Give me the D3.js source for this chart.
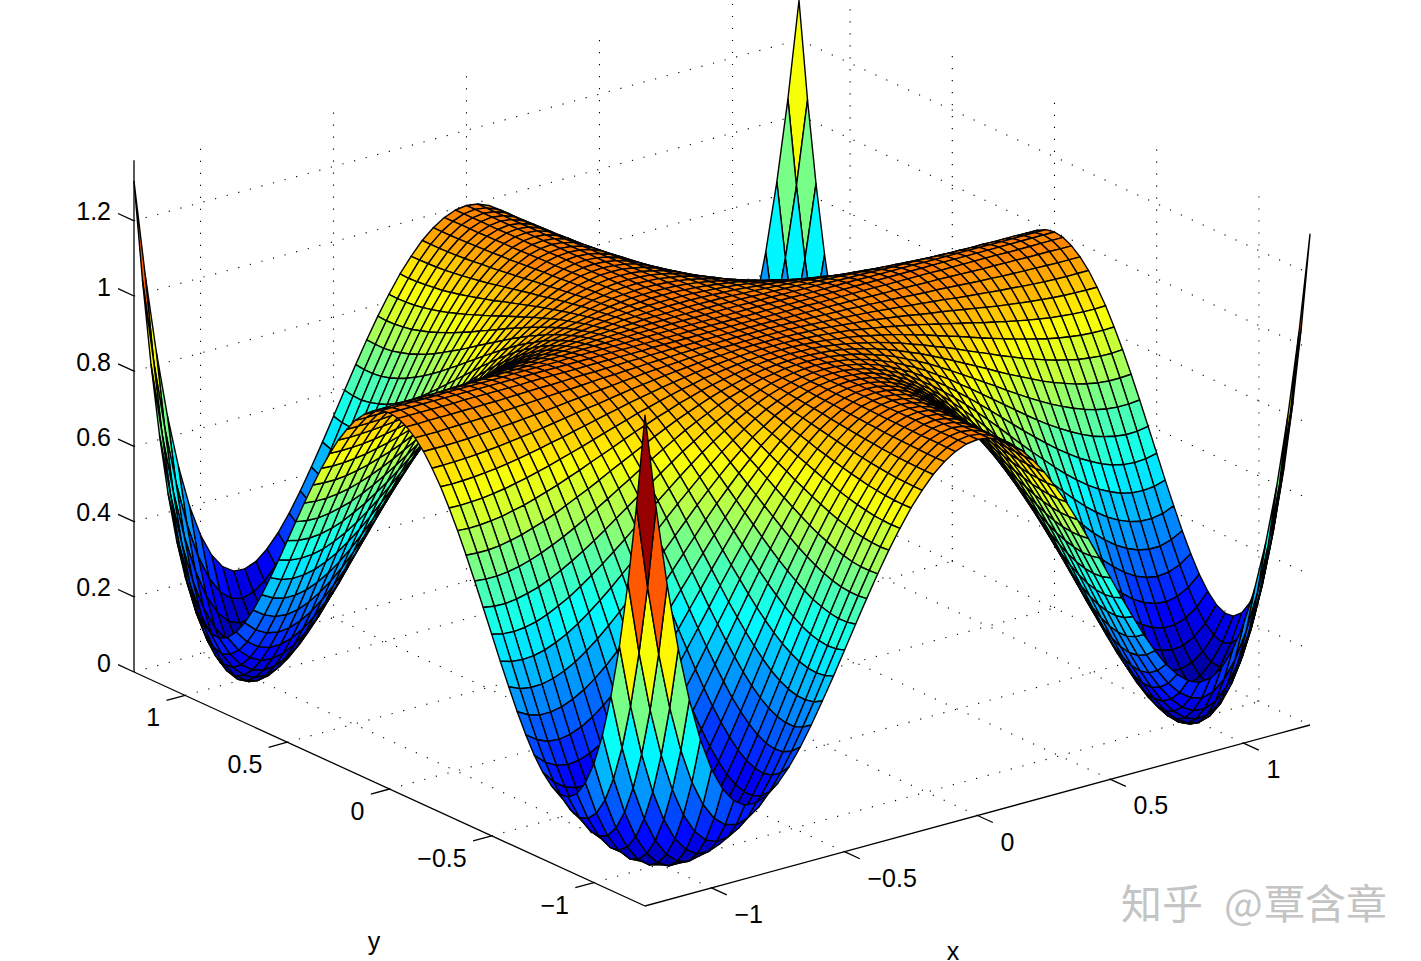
<!DOCTYPE html>
<html><head><meta charset="utf-8"><style>html,body{margin:0;background:#fff;overflow:hidden}text{font-family:"Liberation Sans",Arial,sans-serif;fill:#000}</style></head>
<body><script src="https://d3js.org/d3.v7.min.js"></script><svg id="chart" width="1421" height="961"></svg>
<script>
// Surface heights in thousandths, indexed by distance from the centre of the grid (one quadrant; the surface is mirror symmetric).
const zQuadrant=[
[1000,1000,1000,1000,1000,1000,1000,1000,1000,1000,1000,1000,1000,1000,1000,1000,1000,1000,1000,1000,1000,1000,1000,1000,1000,1000,1000,1000,1000,1000,1000],
[1000,1000,1000,1000,1000,1000,1000,1000,999,999,999,999,999,999,998,998,998,998,998,997,997,997,997,997,997,996,996,996,996,996,996],
[1000,1000,1000,1000,999,999,999,998,998,997,997,996,995,994,994,993,992,991,991,990,989,988,987,987,986,986,985,985,985,984,984],
[1000,1000,1000,999,999,998,997,996,995,994,992,991,989,988,986,984,982,981,979,977,975,973,972,970,969,968,967,966,965,965,965],
[1000,1000,999,999,998,996,995,993,991,989,987,984,981,978,975,972,969,966,962,959,956,953,950,948,945,943,941,940,939,939,939],
[1000,1000,999,998,996,995,992,989,986,983,979,975,971,966,961,956,952,947,942,937,932,927,923,919,915,912,909,907,906,905,905],
[1000,1000,999,997,995,992,989,985,980,975,970,964,958,952,945,938,931,924,917,909,903,896,890,884,879,874,871,868,866,865,866],
[1000,1000,998,996,993,989,985,980,973,967,960,952,943,935,925,916,907,897,887,878,869,860,852,844,837,831,826,822,820,819,820],
[1000,999,998,995,991,986,980,973,966,957,948,937,927,915,904,892,879,867,855,842,831,819,809,799,790,783,776,772,769,768,770],
[1000,999,997,994,989,983,975,967,957,946,934,922,908,894,879,864,849,834,818,803,789,775,761,749,739,729,722,716,713,713,715],
[1000,999,997,992,987,979,970,960,948,934,920,905,888,871,853,835,816,798,779,761,743,726,710,696,683,672,663,657,654,654,657],
[1000,999,996,991,984,975,964,952,937,922,905,886,867,846,825,803,781,759,737,715,694,674,656,639,624,611,602,595,591,592,597],
[1000,999,995,989,981,971,958,943,927,908,888,867,844,820,795,770,744,718,692,667,643,620,599,579,563,548,537,530,527,529,536],
[1000,999,994,988,978,966,952,935,915,894,871,846,820,792,764,735,705,675,646,618,590,564,540,518,499,484,472,465,463,466,475],
[1000,998,994,986,975,961,945,925,904,879,853,825,795,764,731,698,665,632,599,566,536,507,480,456,435,419,407,400,399,404,417],
[1000,998,993,984,972,956,938,916,892,864,835,803,770,735,698,661,624,587,550,515,481,449,419,393,371,354,342,336,336,345,361],
[1000,998,992,982,969,952,931,907,879,849,816,781,744,705,665,624,583,542,502,463,426,391,359,332,309,291,279,274,277,289,310],
[1000,998,991,981,966,947,924,897,867,834,798,759,718,675,632,587,542,497,454,411,371,334,301,272,248,231,220,217,223,239,266],
[1000,998,991,979,962,942,917,887,855,818,779,737,692,646,599,550,502,454,407,362,319,280,245,215,191,175,166,166,176,197,231],
[1000,997,990,977,959,937,909,878,842,803,761,715,667,618,566,515,463,411,362,314,269,229,193,163,139,124,118,121,137,164,206],
[1000,997,989,975,956,932,903,869,831,789,743,694,643,590,536,481,426,371,319,269,223,181,145,115,93,80,77,86,107,143,194],
[1000,997,988,973,953,927,896,860,819,775,726,674,620,564,507,449,391,334,280,229,181,139,103,75,55,45,47,61,90,134,196],
[1000,997,987,972,950,923,890,852,809,761,710,656,599,540,480,419,359,301,245,193,145,103,68,42,26,20,28,49,87,142,216],
[1000,997,987,970,948,919,884,844,799,749,696,639,579,518,456,393,332,272,215,163,115,75,42,19,7,7,21,52,99,167,255],
[1000,997,986,969,945,915,879,837,790,739,683,624,563,499,435,371,309,248,191,139,93,55,26,7,0,7,30,71,130,212,316],
[1000,996,986,968,943,912,874,831,783,729,672,611,548,484,419,354,291,231,175,124,80,45,20,7,7,23,56,108,182,279,402],
[1000,996,985,967,941,909,871,826,776,722,663,602,537,472,407,342,279,220,166,118,77,47,28,21,30,56,101,167,257,372,516],
[1000,996,985,966,940,907,868,822,772,716,657,595,530,465,400,336,274,217,166,121,86,61,49,52,71,108,167,249,357,493,660],
[1000,996,985,965,939,906,866,820,769,713,654,591,527,463,399,336,277,223,176,137,107,90,87,99,130,182,257,357,485,645,838],
[1000,996,984,965,939,905,865,819,768,713,654,592,529,466,404,345,289,239,197,164,143,134,142,167,212,279,372,493,645,830,1051],
[1000,996,984,965,939,905,866,820,770,715,657,597,536,475,417,361,310,266,231,206,194,196,216,255,316,402,516,660,838,1051,1305]];
const xyTicks=[-1,-0.5,0,0.5,1];
const xyTickLabels=["\u22121","\u22120.5","0","0.5","1"];
const zTicks=[0,0.2,0.4,0.6,0.8,1,1.2];
const zTickLabels=["0","0.2","0.4","0.6","0.8","1","1.2"];
const xyMin=-1.25,xyMax=1.25,zTop=1.361,colourTop=1.33,cells=60;

const xS=d3.scaleLinear([xyMin,xyMax],[0,665]), xSy=d3.scaleLinear([xyMin,xyMax],[0,-181]);
const yS=d3.scaleLinear([xyMin,xyMax],[0,-511]), ySy=d3.scaleLinear([xyMin,xyMax],[0,-234]);
const zS=d3.scaleLinear([0,1],[0,-376]);
const P=(x,y,z)=>[645+xS(x)+yS(y),906+xSy(x)+ySy(y)+zS(z)];
const grid=d3.scaleLinear([0,cells],[xyMin,xyMax]);
const Z=(i,j)=>zQuadrant[Math.abs(i-cells/2)][Math.abs(j-cells/2)]/1000;
function jet(t){const c=v=>Math.round(255*Math.max(0,Math.min(1,v)));
  return `rgb(${c(Math.min(4*t-1.5,-4*t+4.5))},${c(Math.min(4*t-0.5,-4*t+3.5))},${c(Math.min(4*t+0.5,-4*t+2.5))})`;}
const jetColors=d3.range(64).map(k=>jet((k+0.5)/64));
const colour=d3.scaleQuantize([0,colourTop],jetColors);

const svg=d3.select("#chart");
const line=(g,a,b)=>g.append("line").attr("x1",a[0]).attr("y1",a[1]).attr("x2",b[0]).attr("y2",b[1]);
// dotted grid
const gg=svg.append("g").attr("stroke","#000").attr("stroke-width",1.1).attr("stroke-dasharray","1.2 10.8").attr("fill","none");
xyTicks.forEach(t=>{
  line(gg,P(t,xyMax,0),P(t,xyMax,zTop));
  line(gg,P(xyMax,t,0),P(xyMax,t,zTop));
  line(gg,P(t,xyMin,0),P(t,xyMax,0));
  line(gg,P(xyMin,t,0),P(xyMax,t,0));
});
zTicks.forEach(t=>{
  line(gg,P(xyMin,xyMax,t),P(xyMax,xyMax,t));
  line(gg,P(xyMax,xyMax,t),P(xyMax,xyMin,t));
});
// axes
const ag=svg.append("g").attr("stroke","#000").attr("stroke-width",1.3);
line(ag,P(xyMin,xyMin,0),P(xyMax,xyMin,0));
line(ag,P(xyMin,xyMin,0),P(xyMin,xyMax,0));
line(ag,P(xyMin,xyMax,0),P(xyMin,xyMax,zTop));
const tg=svg.append("g").attr("font-size",25);
xyTicks.forEach((t,k)=>{
  let a=P(t,xyMin,0); line(ag,a,P(t,xyMin-0.075,0));
  tg.append("text").attr("x",a[0]+23).attr("y",a[1]+35).attr("text-anchor","start").text(xyTickLabels[k]);
  a=P(xyMin,t,0); line(ag,a,P(xyMin-0.07,t,0));
  tg.append("text").attr("x",a[0]-25).attr("y",a[1]+31).attr("text-anchor","end").text(xyTickLabels[k]);
});
zTicks.forEach((t,k)=>{
  const a=P(xyMin,xyMax,t); line(ag,a,P(xyMin,xyMax+0.078,t));
  tg.append("text").attr("x",a[0]-23).attr("y",a[1]-0.5).attr("text-anchor","end").text(zTickLabels[k]);
});
tg.append("text").attr("x",374).attr("y",950).attr("text-anchor","middle").text("y");
tg.append("text").attr("x",953).attr("y",960).attr("text-anchor","middle").text("x");
// surface, back to front
const faces=[];
for(let i=cells-1;i>=0;i--)for(let j=cells-1;j>=0;j--)faces.push({i,j});
svg.append("g").attr("stroke","#000").attr("stroke-width",1.4).attr("stroke-linejoin","round")
 .selectAll("polygon").data(faces).join("polygon")
 .attr("fill",d=>colour(Z(d.i,d.j)))
 .attr("points",d=>[[0,0],[1,0],[1,1],[0,1]].map(([a,b])=>P(grid(d.i+a),grid(d.j+b),Z(d.i+a,d.j+b)).map(v=>v.toFixed(2)).join(",")).join(" "));
// watermark
[["知乎",1121],["@",1224],["覃含章",1264]].forEach(([s,x])=>svg.append("text").attr("x",x).attr("y",919).attr("style",'font-family:"Noto Sans CJK SC";fill:#c4c4c4').attr("font-size",41).text(s));
</script></body></html>
